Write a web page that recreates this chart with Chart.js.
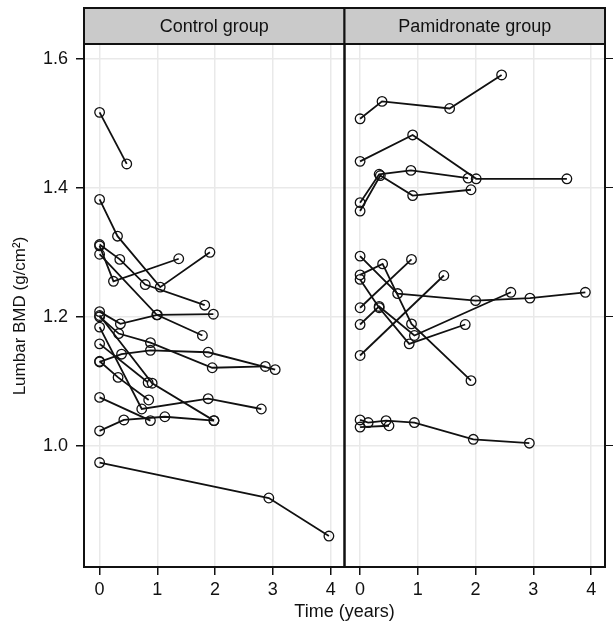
<!DOCTYPE html>
<html>
<head>
<meta charset="utf-8">
<script src="https://cdn.jsdelivr.net/npm/chart.js@4"></script>
<style>
  html, body { margin: 0; padding: 0; background: #fff; }
  #wrap { width: 613px; height: 632px; }
</style>
</head>
<body>
<div id="wrap"><canvas id="bmd-chart" width="613" height="632"></canvas></div>
<script>
// panel titles and axis ticks
const groups = ['Control group', 'Pamidronate group'];
const xTicks = [0, 1, 2, 3, 4];
const yTicks = [1.0, 1.2, 1.4, 1.6];

// control group: one row per child (time in years, lumbar BMD g/cm2)
const controlTime = [
    [0, 0.47],
    [0, 0.31, 1.05, 1.91],
    [0, 0.35, 0.79, 1.82],
    [0, 0.24, 1.37],
    [0, 0.99, 1.78],
    [0, 0.36, 1.0, 1.97],
    [0, 0.33, 0.88, 1.95, 2.87],
    [0, 0.91, 1.98],
    [0, 0.73, 1.88, 2.80],
    [0, 0.84],
    [0, 0.38, 0.88, 1.88, 3.04],
    [0, 0.32, 0.85],
    [0, 0.88],
    [0, 0.42, 1.13, 1.98],
    [0, 2.93, 3.97]
];
const controlBmd = [
    [1.517, 1.437],
    [1.382, 1.325, 1.246, 1.300],
    [1.312, 1.289, 1.250, 1.218],
    [1.310, 1.255, 1.290],
    [1.297, 1.203, 1.171],
    [1.208, 1.189, 1.203, 1.204],
    [1.200, 1.174, 1.160, 1.121, 1.123],
    [1.202, 1.097, 1.039],
    [1.184, 1.057, 1.073, 1.057],
    [1.158, 1.098],
    [1.130, 1.142, 1.148, 1.145, 1.118],
    [1.131, 1.106, 1.071],
    [1.075, 1.039],
    [1.023, 1.040, 1.045, 1.039],
    [0.974, 0.919, 0.860]
];

// pamidronate group
const pamTime = [
    [0, 0.38, 1.55, 2.45],
    [0, 0.91, 2.01, 3.58],
    [0, 0.33, 0.88, 1.87],
    [0, 0.35, 0.91, 1.92],
    [0, 0.65, 2.0, 2.94, 3.90],
    [0, 0.39, 0.89, 1.92],
    [0, 0.89],
    [0, 1.45],
    [0, 0.33, 0.85, 1.82],
    [0, 0.33, 0.94, 2.61],
    [0, 0.14, 0.45, 0.94, 1.96, 2.93],
    [0, 0.5]
];
const pamBmd = [
    [1.507, 1.534, 1.523, 1.575],
    [1.441, 1.482, 1.414, 1.414],
    [1.377, 1.421, 1.427, 1.415],
    [1.364, 1.419, 1.388, 1.397],
    [1.294, 1.236, 1.225, 1.229, 1.238],
    [1.265, 1.282, 1.189, 1.101],
    [1.214, 1.289],
    [1.140, 1.264],
    [1.258, 1.214, 1.158, 1.188],
    [1.188, 1.216, 1.171, 1.238],
    [1.040, 1.036, 1.039, 1.036, 1.010, 1.004],
    [1.029, 1.031]
];

const FONT = "'Liberation Sans', Arial, sans-serif";

function makeSets(times, values, axisId) {
    return times.map((t, i) => ({
        xAxisID: axisId,
        yAxisID: 'y',
        data: t.map((x, j) => ({x: x, y: values[i][j]})),
        borderColor: '#111',
        borderWidth: 1.8,
        tension: 0,
        pointRadius: 4.8,
        pointBorderWidth: 1.3,
        pointBorderColor: '#111',
        pointBackgroundColor: 'rgba(0,0,0,0)'
    }));
}

const datasets = makeSets(controlTime, controlBmd, 'x').concat(makeSets(pamTime, pamBmd, 'x2'));

const setTicks = list => axis => { axis.ticks = list.map(v => ({value: v})); };

function xScale() {
    return {
        type: 'linear',
        position: 'bottom',
        stack: 'time',
        stackWeight: 1,
        min: -0.27,
        max: 4.24,
        afterBuildTicks: setTicks(xTicks),
        afterFit: s => { s.height = 65; },
        grid: { color: '#e9e9e9', lineWidth: 1.5, tickColor: '#111', tickLength: 8, drawTicks: true },
        border: { display: false },
        ticks: { color: '#111', padding: 4, font: { family: FONT, size: 18 } }
    };
}

// strips, frames and the axis titles
const panelPlugin = {
    id: 'panels',
    afterDraw(chart) {
        const ctx = chart.ctx;
        const area = chart.chartArea;
        const stripTop = 8;
        ctx.save();
        [chart.scales.x, chart.scales.x2].forEach((s, i) => {
            ctx.fillStyle = '#cacaca';
            ctx.fillRect(s.left, stripTop, s.right - s.left, area.top - stripTop);
            ctx.fillStyle = '#111';
            ctx.font = '18px ' + FONT;
            ctx.textAlign = 'center';
            ctx.textBaseline = 'middle';
            ctx.fillText(groups[i], (s.left + s.right) / 2, (stripTop + area.top) / 2 + 1);
            ctx.strokeStyle = '#111';
            ctx.lineWidth = 2;
            ctx.strokeRect(s.left, stripTop, s.right - s.left, area.bottom - stripTop);
            ctx.beginPath();
            ctx.moveTo(s.left, area.top);
            ctx.lineTo(s.right, area.top);
            ctx.stroke();
        });
        ctx.fillStyle = '#111';
        ctx.font = '18px ' + FONT;
        ctx.textAlign = 'center';
        ctx.textBaseline = 'middle';
        ctx.fillText('Time (years)', (area.left + area.right) / 2, 612);
        ctx.translate(20, 316);
        ctx.rotate(-Math.PI / 2);
        ctx.font = '17px ' + FONT;
        ctx.fillText('Lumbar BMD (g/cm²)', 0, 0);
        ctx.restore();
    }
};

new Chart(
    document.getElementById('bmd-chart'),
    {
        type: 'line',
        data: { datasets: datasets },
        options: {
            responsive: false,
            animation: false,
            layout: { padding: { top: 44, left: 0, right: 0, bottom: 0 } },
            plugins: {
                legend: { display: false },
                tooltip: { enabled: false }
            },
            scales: {
                x: xScale(),
                x2: xScale(),
                y: {
                    type: 'linear',
                    position: 'left',
                    min: 0.812,
                    max: 1.623,
                    afterBuildTicks: setTicks(yTicks),
                    afterFit: s => { s.width = 84; },
                    grid: { color: '#e9e9e9', lineWidth: 1.5, tickColor: '#111', tickLength: 8 },
                    border: { display: false },
                    ticks: {
                        color: '#111', padding: 8, font: { family: FONT, size: 18 },
                        callback: v => v.toFixed(1)
                    }
                },
                y2: {
                    type: 'linear',
                    position: 'right',
                    min: 0.812,
                    max: 1.623,
                    afterBuildTicks: setTicks(yTicks),
                    afterFit: s => { s.width = 8; },
                    grid: { drawOnChartArea: false, tickColor: '#111', tickLength: 8 },
                    border: { display: false },
                    ticks: { display: false }
                }
            }
        },
        plugins: [panelPlugin]
    }
);
</script>
</body>
</html>
